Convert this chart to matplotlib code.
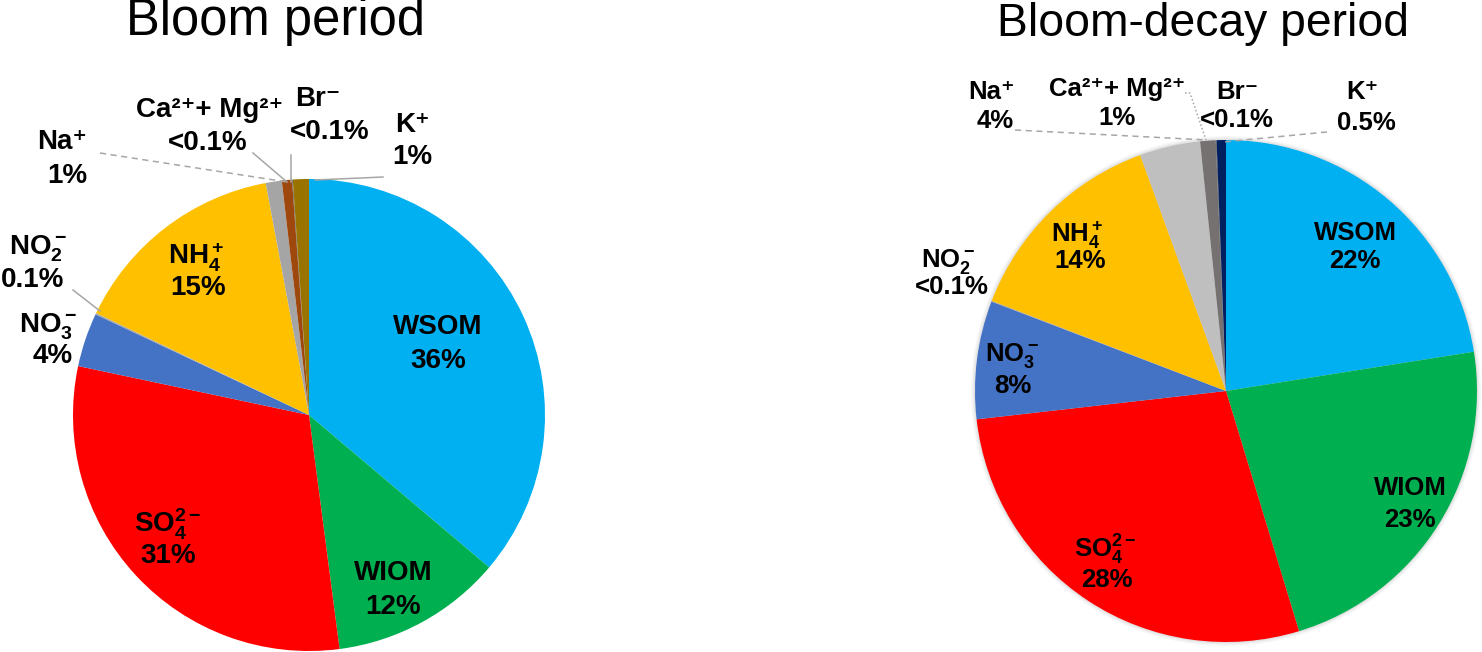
import matplotlib
matplotlib.use("Agg")
import matplotlib.pyplot as plt
from matplotlib.patches import Circle

plt.rcParams['font.family'] = ['Liberation Sans', 'DejaVu Sans']
plt.rcParams['mathtext.fontset'] = 'custom'
plt.rcParams['mathtext.rm'] = 'Liberation Sans:bold'
plt.rcParams['mathtext.it'] = 'Liberation Sans:bold'
plt.rcParams['mathtext.bf'] = 'Liberation Sans:bold'

# ---------------- data ----------------
components = ["WSOM", "WIOM", "SO4", "NO3", "NO2", "NH4", "Na", "CaMg", "Br", "K"]
bloom_values = [36.3, 11.8, 30.5, 3.7, 0.1, 15.0, 1.1, 0.7, 0.05, 1.1]
decay_values = [22.5, 22.8, 27.9, 7.6, 0.05, 13.6, 3.9, 1.0, 0.05, 0.6]
bloom_pct = ["36%", "12%", "31%", "4%", "0.1%", "15%", "1%", "<0.1%", "<0.1%", "1%"]
decay_pct = ["22%", "23%", "28%", "8%", "<0.1%", "14%", "4%", "1%", "<0.1%", "0.5%"]
names = ["WSOM", "WIOM", r"SO$_4^{2-}$", r"NO$_3^-$", r"NO$_2^-$", r"NH$_4^+$",
         "Na⁺", "Ca²⁺+ Mg²⁺", "Br⁻", "K⁺"]
bloom_colors = ['#00B0F0', '#00B050', '#FF0000', '#4472C4', '#A5A5A5', '#FFC000',
                '#A5A5A5', '#9E480E', '#636363', '#997300']
decay_colors = ['#00B0F0', '#00B050', '#FF0000', '#4472C4', '#A5A5A5', '#FFC000',
                '#BFBFBF', '#767171', '#636363', '#002060']
titles = ["Bloom period", "Bloom-decay period"]

W, H = 1482, 652
fig = plt.figure(figsize=(W / 100, H / 100), dpi=100)
ax = fig.add_axes([0, 0, 1, 1])

def Y(y):
    return H - y

# right pie soft shadow
for dr, a in [(4, 0.06), (2.5, 0.08), (1.2, 0.10)]:
    ax.add_patch(Circle((1226, Y(391)), 251 + dr, color='#808080', alpha=a, lw=0, zorder=0))

ax.pie(bloom_values, colors=bloom_colors, startangle=90, counterclock=False,
       center=(309, Y(415)), radius=236, wedgeprops=dict(linewidth=0), frame=True)
ax.pie(decay_values, colors=decay_colors, startangle=90, counterclock=False,
       center=(1226, Y(391)), radius=251, wedgeprops=dict(linewidth=0), frame=True)
ax.set_xlim(0, W)
ax.set_ylim(0, H)
ax.set_aspect('equal')
ax.axis('off')

# titles
ax.text(275, Y(22), titles[0], fontsize=36.5, ha='center', va='center')
ax.text(1203, Y(24), titles[1], fontsize=33.3, ha='center', va='center')

# label positions (name_xy, pct_xy) in pixel coordinates
bloom_pos = [((438, 327), (438, 361)), ((393, 573), (393, 607)), ((168, 524), (168, 556)),
             ((48, 327), (53, 356)), ((38, 249), (33, 280)), ((196, 257), (198, 288)),
             ((62, 142), (67, 176)), ((210, 110), (208, 143)), ((318, 99), (330, 132)),
             ((412, 125), (412, 157))]
decay_pos = [((1355, 233), (1355, 261)), ((1410, 488), (1410, 520)), ((1105, 550), (1107, 580)),
             ((1012, 355), (1013, 386)), ((948, 262), (952, 287)), ((1077, 235), (1080, 261)),
             ((992, 92), (995, 121)), ((1117, 89), (1117, 118)), ((1237, 92), (1237, 120)),
             ((1362, 92), (1366, 123))]

def put_labels(pos, pct, fs):
    for nm, p, ((x1, y1), (x2, y2)) in zip(names, pct, pos):
        ax.text(x1, Y(y1), nm, fontsize=fs, fontweight='bold', ha='center', va='center')
        ax.text(x2, Y(y2), p, fontsize=fs, fontweight='bold', ha='center', va='center')

put_labels(bloom_pos, bloom_pct, 20)
put_labels(decay_pos, decay_pct, 18.5)

lc = '#A6A6A6'
def leader(pts, ls='-'):
    ax.plot([p[0] for p in pts], [Y(p[1]) for p in pts], color=lc, lw=1.1, ls=ls)

# bloom leaders
leader([(73, 290), (100, 311)])
leader([(100, 153), (287, 182)], ls=(0, (4, 3)))
leader([(253, 153), (287, 182)])
leader([(291, 155), (291, 182)])
leader([(383, 177), (315, 180)])
# decay leaders
leader([(1015, 130), (1207, 140)], ls=(0, (4, 3)))
leader([(1185, 93), (1190, 93), (1206, 140)], ls=(0, (1, 1.5)))
leader([(1327, 132), (1223, 142)], ls=(0, (4, 3)))

fig.savefig("out.png", dpi=100)
